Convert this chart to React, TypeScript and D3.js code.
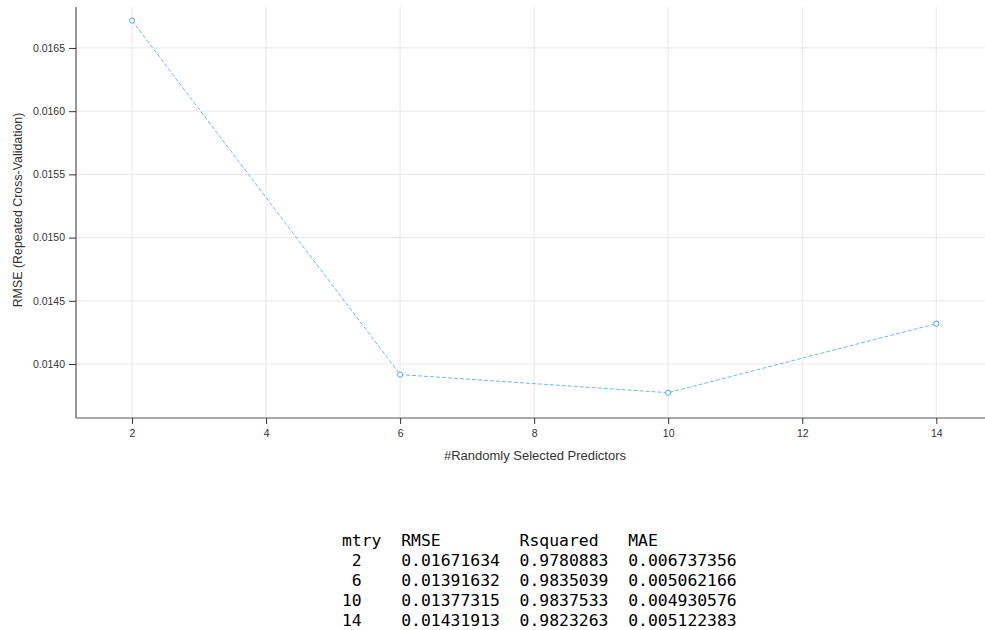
import React, { useEffect, useRef } from "react"
import * as d3 from "d3"

// mtry values tried by caret and the resampled metrics
const mtry = [2, 6, 10, 14]
const rmse = [0.01671634, 0.01391632, 0.01377315, 0.01431913]
const rsquared = [0.9780883, 0.9835039, 0.9837533, 0.9823263]
const mae = [0.006737356, 0.005062166, 0.004930576, 0.005122383]

const xTicks = [2, 4, 6, 8, 10, 12, 14]
const yTicks = [0.014, 0.0145, 0.015, 0.0155, 0.016, 0.0165]
const tableHeader = ["mtry", "RMSE", "Rsquared", "MAE"]

const width = 985
const height = 630
const lineColor = "#4da3ff"

const fmt = d3.format(".7r")

export default function App() {
  const ref = useRef<SVGSVGElement>(null)

  useEffect(() => {
    const svg = d3.select(ref.current)
    svg.selectAll("*").remove()

    const x = d3.scaleLinear().domain([1.164, 14.84]).range([76, 992.6])
    const y = d3.scaleLinear().domain([0.013573, 0.016824]).range([418, 7])

    // grid
    const grid = svg.append("g")
    grid
      .selectAll("line.h")
      .data(yTicks)
      .enter()
      .append("line")
      .attr("x1", 76)
      .attr("x2", width)
      .attr("y1", d => y(d))
      .attr("y2", d => y(d))
      .attr("stroke", "#ebebeb")
      .attr("stroke-width", 1.2)
    grid
      .selectAll("line.v")
      .data(xTicks)
      .enter()
      .append("line")
      .attr("x1", d => x(d))
      .attr("x2", d => x(d))
      .attr("y1", 7)
      .attr("y2", 418)
      .attr("stroke", "#ebebeb")
      .attr("stroke-width", 1.2)

    // axes
    const yAxis = d3.axisLeft(y).tickValues(yTicks).tickFormat(d3.format(".4f")).tickSize(7).tickPadding(4)
    const xAxis = d3.axisBottom(x).tickValues(xTicks).tickFormat(d3.format("d")).tickSize(6).tickPadding(6)

    const gy = svg.append("g").attr("transform", "translate(76,0)").call(yAxis)
    gy.select(".domain").attr("d", "M0,7V418").attr("stroke", "#333")
    gy.selectAll(".tick line").attr("stroke", "#333")
    gy.selectAll(".tick text")
      .attr("font-family", "Liberation Sans, Arial, sans-serif")
      .attr("font-size", 10.5)
      .attr("fill", "#333")

    const gx = svg.append("g").attr("transform", "translate(0,418)").call(xAxis)
    gx.select(".domain").attr("d", `M76,0H${width}`).attr("stroke", "#555")
    gx.selectAll(".tick line").attr("stroke", "#333")
    gx.selectAll(".tick text")
      .attr("font-family", "Liberation Sans, Arial, sans-serif")
      .attr("font-size", 10.5)
      .attr("fill", "#333")

    // titles
    svg
      .append("text")
      .attr("x", 535)
      .attr("y", 460)
      .attr("text-anchor", "middle")
      .attr("font-family", "Liberation Sans, Arial, sans-serif")
      .attr("font-size", 13)
      .attr("fill", "#333")
      .text("#Randomly Selected Predictors")

    svg
      .append("text")
      .attr("transform", "translate(22,210) rotate(-90)")
      .attr("text-anchor", "middle")
      .attr("font-family", "Liberation Sans, Arial, sans-serif")
      .attr("font-size", 12.4)
      .attr("fill", "#333")
      .text("RMSE (Repeated Cross-Validation)")

    // line + points
    const pts = mtry.map((m, i) => [x(m), y(rmse[i])] as [number, number])
    svg
      .append("path")
      .attr("d", d3.line()(pts))
      .attr("fill", "none")
      .attr("stroke", lineColor)
      .attr("stroke-width", 1)
      .attr("stroke-dasharray", "4 2")
      .attr("opacity", 0.8)

    svg
      .append("g")
      .selectAll("circle")
      .data(pts)
      .enter()
      .append("circle")
      .attr("cx", d => d[0])
      .attr("cy", d => d[1])
      .attr("r", 2.6)
      .attr("fill", "white")
      .attr("stroke", lineColor)
      .attr("stroke-width", 1)

    // printed results table
    const rows = [
      tableHeader[0].padEnd(6) + tableHeader[1].padEnd(12) + tableHeader[2].padEnd(11) + tableHeader[3]
    ].concat(
      mtry.map(
        (m, i) =>
          String(m).padStart(2).padEnd(6) +
          fmt(rmse[i]).padEnd(12) +
          fmt(rsquared[i]).padEnd(11) +
          fmt(mae[i])
      )
    )

    svg
      .append("g")
      .selectAll("text")
      .data(rows)
      .enter()
      .append("text")
      .attr("x", 342)
      .attr("y", (d, i) => 546 + i * 20)
      .attr("xml:space", "preserve")
      .style("white-space", "pre")
      .attr("font-family", "DejaVu Sans Mono, monospace")
      .attr("font-size", 16.4)
      .attr("fill", "#000")
      .text(d => d)
  }, [])

  return (
    <svg
      ref={ref}
      width={width}
      height={height}
      style={{ position: "absolute", left: 0, top: 0, background: "white" }}
    ></svg>
  )
}
